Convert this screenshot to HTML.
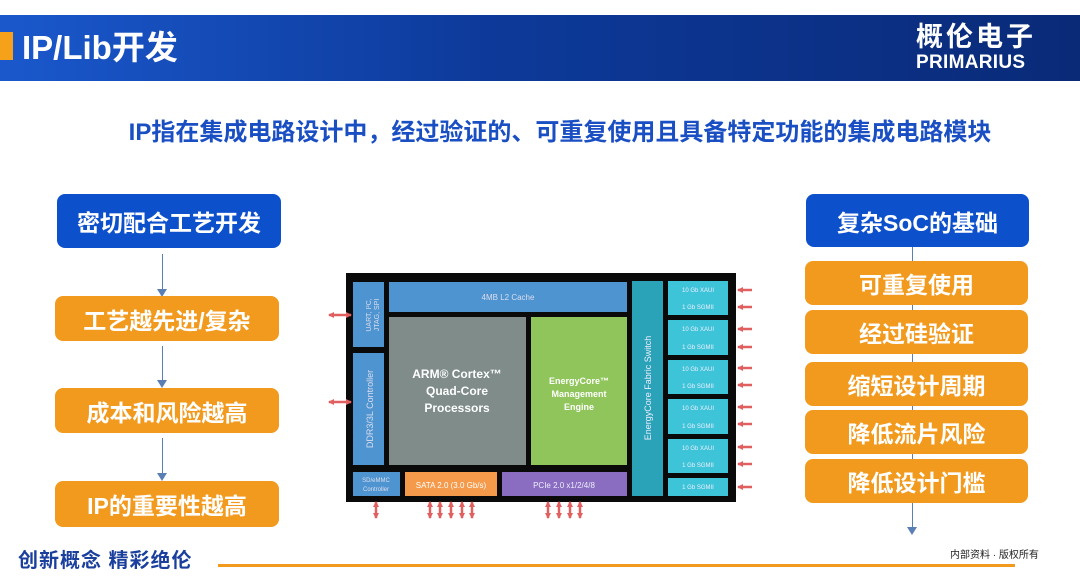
<!DOCTYPE html>
<html><head><meta charset="utf-8"><style>
*{margin:0;padding:0;box-sizing:border-box}
body{width:1080px;height:586px;background:#fff;position:relative;overflow:hidden;font-family:"Liberation Sans","Noto Sans CJK SC",sans-serif}
.hdr{position:absolute;left:0;top:15px;width:1080px;height:66px;background:linear-gradient(90deg,#1a58cc 0%,#0d3a9a 45%,#0a2a78 100%)}
.sq{position:absolute;left:0;top:32px;width:13px;height:28px;background:#f5a21a}
.title{position:absolute;left:22px;top:26px;color:#fff;font-size:33px;font-weight:bold;line-height:44px}
.logo1{position:absolute;left:916px;top:20px;color:#fff;font-size:27px;font-weight:bold;letter-spacing:3px;line-height:34px}
.logo2{position:absolute;left:916px;top:52px;color:#fff;font-size:19px;font-weight:bold;line-height:22px;letter-spacing:0.3px}
.sub{position:absolute;left:125px;width:870px;top:116px;text-align:center;color:#1a4fc4;font-size:24px;font-weight:bold;line-height:34px;white-space:nowrap}
.b{position:absolute;color:#fff;font-weight:bold;font-size:23px;display:flex;align-items:center;justify-content:center;border-radius:8px}
.blue{background:#0d50cc}
.or{background:#f29a1e}
.ln{position:absolute;width:1px;background:#5a7fb5}
.ah{position:absolute;width:0;height:0;border-left:5px solid transparent;border-right:5px solid transparent;border-top:8px solid #5a7fb5}
.foot{position:absolute;left:18px;top:547px;color:#1a3f9c;font-size:20px;line-height:28px;letter-spacing:1px;font-weight:bold}
.fl{position:absolute;left:218px;top:564px;width:797px;height:3px;background:#f29a1e}
.fr{position:absolute;left:950px;top:546px;font-size:10px;color:#222}
</style></head><body>
<div class="hdr"></div><div class="sq"></div>
<div class="title">IP/Lib开发</div>
<div class="logo1">概伦电子</div>
<div class="logo2">PRIMARIUS</div>
<div class="sub">IP指在集成电路设计中，经过验证的、可重复使用且具备特定功能的集成电路模块</div>

<div class="b blue" style="left:57px;top:194px;width:224px;height:54px">密切配合工艺开发</div>
<div class="ln" style="left:162px;top:254px;height:36px"></div><div class="ah" style="left:157px;top:289px"></div>
<div class="b or" style="left:55px;top:296px;width:224px;height:45px">工艺越先进/复杂</div>
<div class="ln" style="left:162px;top:346px;height:36px"></div><div class="ah" style="left:157px;top:380px"></div>
<div class="b or" style="left:55px;top:388px;width:224px;height:45px">成本和风险越高</div>
<div class="ln" style="left:162px;top:438px;height:36px"></div><div class="ah" style="left:157px;top:473px"></div>
<div class="b or" style="left:55px;top:481px;width:224px;height:46px">IP的重要性越高</div>

<div class="ln" style="left:912px;top:246px;height:282px"></div><div class="ah" style="left:907px;top:527px"></div>
<div class="b blue" style="left:806px;top:194px;width:223px;height:53px">复杂SoC的基础</div>
<div class="b or" style="left:805px;top:261px;width:223px;height:44px">可重复使用</div>
<div class="b or" style="left:805px;top:310px;width:223px;height:44px">经过硅验证</div>
<div class="b or" style="left:805px;top:362px;width:223px;height:44px">缩短设计周期</div>
<div class="b or" style="left:805px;top:410px;width:223px;height:44px">降低流片风险</div>
<div class="b or" style="left:805px;top:459px;width:223px;height:44px">降低设计门槛</div>

<svg style="position:absolute;left:0;top:0" width="1080" height="586" font-family="Liberation Sans, sans-serif">
<defs><marker id="a" markerUnits="userSpaceOnUse" markerWidth="6" markerHeight="6" refX="5" refY="3" orient="auto-start-reverse"><path d="M0,0 L6,3 L0,6z" fill="#e06060"/></marker></defs>
<rect x="346" y="273" width="390" height="229" fill="#0a0a0a"/>
<rect x="353" y="282" width="31" height="65" fill="#4d94d0"/>
<text transform="translate(371,315) rotate(-90)" font-size="7" fill="#dde" text-anchor="middle">UART, I²C,</text>
<text transform="translate(379,315) rotate(-90)" font-size="7" fill="#dde" text-anchor="middle">JTAG, SPI</text>
<rect x="353" y="353" width="31" height="112" fill="#4d94d0"/>
<text transform="translate(373,409) rotate(-90)" font-size="9" fill="#dde" text-anchor="middle">DDR3/3L Controller</text>
<rect x="353" y="472" width="47" height="24" fill="#4d94d0"/>
<text x="376" y="482" font-size="6" fill="#dde" text-anchor="middle">SD/eMMC</text>
<text x="376" y="491" font-size="6" fill="#dde" text-anchor="middle">Controller</text>
<rect x="405" y="472" width="92" height="24" fill="#f49a4a"/>
<text x="451" y="488" font-size="8" fill="#fff" text-anchor="middle">SATA 2.0 (3.0 Gb/s)</text>
<rect x="502" y="472" width="125" height="24" fill="#8a6cc0"/>
<text x="564" y="488" font-size="8" fill="#eef" text-anchor="middle">PCIe 2.0 x1/2/4/8</text>
<rect x="389" y="282" width="238" height="30" fill="#4d94d0"/>
<text x="508" y="300" font-size="8" fill="#dde" text-anchor="middle">4MB L2 Cache</text>
<rect x="389" y="317" width="137" height="148" fill="#7f8c8a"/>
<text x="457" y="378" font-size="12" fill="#fff" text-anchor="middle" font-weight="bold">ARM® Cortex™</text>
<text x="457" y="395" font-size="12" fill="#fff" text-anchor="middle" font-weight="bold">Quad-Core</text>
<text x="457" y="412" font-size="12" fill="#fff" text-anchor="middle" font-weight="bold">Processors</text>
<rect x="531" y="317" width="96" height="148" fill="#8fc55a"/>
<text x="579" y="384" font-size="9" fill="#fff" text-anchor="middle" font-weight="bold">EnergyCore™</text>
<text x="579" y="397" font-size="9" fill="#fff" text-anchor="middle" font-weight="bold">Management</text>
<text x="579" y="410" font-size="9" fill="#fff" text-anchor="middle" font-weight="bold">Engine</text>
<rect x="632" y="281" width="31" height="215" fill="#2aa3b8"/>
<text transform="translate(651,388) rotate(-90)" font-size="9" fill="#eef" text-anchor="middle">EnergyCore Fabric Switch</text>
<g fill="#3ec4d8">
<rect x="668" y="281" width="60" height="34"/><rect x="668" y="320" width="60" height="35"/><rect x="668" y="360" width="60" height="34"/><rect x="668" y="399" width="60" height="35"/><rect x="668" y="439" width="60" height="34"/><rect x="668" y="478" width="60" height="18"/>
</g>
<g font-size="6" fill="#eef" text-anchor="middle">
<text x="698" y="292">10 Gb XAUI</text><text x="698" y="309">1 Gb SGMII</text>
<text x="698" y="331">10 Gb XAUI</text><text x="698" y="349">1 Gb SGMII</text>
<text x="698" y="371">10 Gb XAUI</text><text x="698" y="388">1 Gb SGMII</text>
<text x="698" y="410">10 Gb XAUI</text><text x="698" y="428">1 Gb SGMII</text>
<text x="698" y="450">10 Gb XAUI</text><text x="698" y="467">1 Gb SGMII</text>
<text x="698" y="489">1 Gb SGMII</text>
</g>
<g stroke="#e06060" stroke-width="2.5">
<line x1="738" y1="290" x2="752" y2="290" marker-start="url(#a)"/><line x1="738" y1="307" x2="752" y2="307" marker-start="url(#a)"/>
<line x1="738" y1="329" x2="752" y2="329" marker-start="url(#a)"/><line x1="738" y1="347" x2="752" y2="347" marker-start="url(#a)"/>
<line x1="738" y1="368" x2="752" y2="368" marker-start="url(#a)"/><line x1="738" y1="385" x2="752" y2="385" marker-start="url(#a)"/>
<line x1="738" y1="407" x2="752" y2="407" marker-start="url(#a)"/><line x1="738" y1="424" x2="752" y2="424" marker-start="url(#a)"/>
<line x1="738" y1="447" x2="752" y2="447" marker-start="url(#a)"/><line x1="738" y1="464" x2="752" y2="464" marker-start="url(#a)"/>
<line x1="738" y1="487" x2="752" y2="487" marker-start="url(#a)"/>
<line x1="329" y1="315" x2="351" y2="315" marker-start="url(#a)" marker-end="url(#a)"/>
<line x1="329" y1="402" x2="351" y2="402" marker-start="url(#a)" marker-end="url(#a)"/>
<line x1="376" y1="502" x2="376" y2="518" marker-start="url(#a)" marker-end="url(#a)"/>
<line x1="430" y1="502" x2="430" y2="518" marker-start="url(#a)" marker-end="url(#a)"/>
<line x1="440" y1="502" x2="440" y2="518" marker-start="url(#a)" marker-end="url(#a)"/>
<line x1="451" y1="502" x2="451" y2="518" marker-start="url(#a)" marker-end="url(#a)"/>
<line x1="462" y1="502" x2="462" y2="518" marker-start="url(#a)" marker-end="url(#a)"/>
<line x1="472" y1="502" x2="472" y2="518" marker-start="url(#a)" marker-end="url(#a)"/>
<line x1="548" y1="502" x2="548" y2="518" marker-start="url(#a)" marker-end="url(#a)"/>
<line x1="559" y1="502" x2="559" y2="518" marker-start="url(#a)" marker-end="url(#a)"/>
<line x1="570" y1="502" x2="570" y2="518" marker-start="url(#a)" marker-end="url(#a)"/>
<line x1="580" y1="502" x2="580" y2="518" marker-start="url(#a)" marker-end="url(#a)"/>
</g>
</svg>

<div class="foot">创新概念 精彩绝伦</div>
<div class="fl"></div>
<div class="fr">内部资料 · 版权所有</div>
</body></html>
